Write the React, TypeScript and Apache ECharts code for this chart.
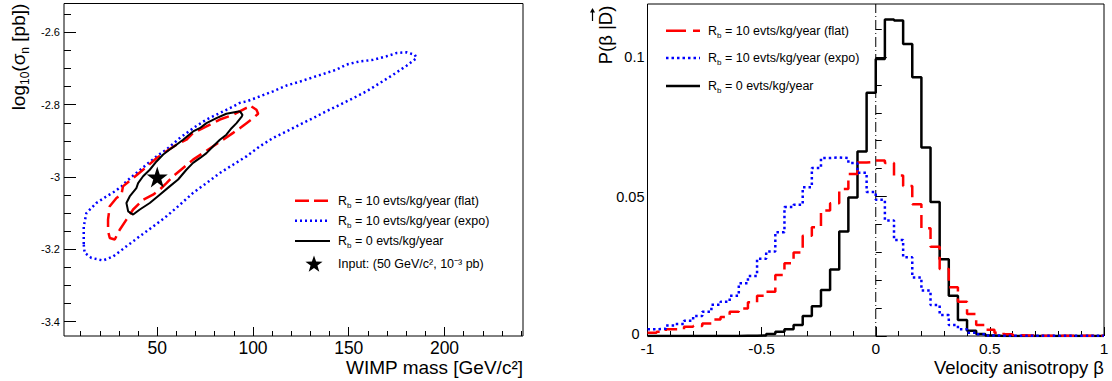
import React, { useEffect, useRef } from "react";
import * as echarts from "echarts";

// ---------- Left panel: credible contours (WIMP mass vs log10 sigma) ----------
const massRange = [1.3, 241];
const logSigmaRange = [-3.44, -2.52];
const massMajorTicks = [50, 100, 150, 200];
const massMinorTicks = [10, 20, 30, 40, 60, 70, 80, 90, 110, 120, 130, 140, 160, 170, 180, 190, 210, 220, 230, 240];
const sigmaMajorTicks = [-3.4, -3.2, -3.0, -2.8, -2.6];
const sigmaMinorTicks = [-3.35, -3.3, -3.25, -3.15, -3.1, -3.05, -2.95, -2.9, -2.85, -2.75, -2.7, -2.65, -2.55];

const contourExpo: [number, number][] = [
  [11.6, -3.187], [12.1, -3.21], [15.6, -3.224], [21.7, -3.231], [26.9, -3.22], [33.9, -3.192],
  [40.9, -3.164], [47.8, -3.137], [54.8, -3.109], [61.8, -3.077], [68.7, -3.044], [75.7, -3.017],
  [82.7, -2.989], [89.6, -2.966], [96.6, -2.943], [103.6, -2.915], [110.5, -2.892], [117.5, -2.874],
  [124.5, -2.855], [131.4, -2.837], [138.4, -2.818], [145.4, -2.8], [152.3, -2.782], [159.3, -2.763],
  [166.3, -2.74], [173.2, -2.717], [180.2, -2.692], [185.4, -2.671], [184.5, -2.662], [180.2, -2.655],
  [175.0, -2.657], [169.7, -2.666], [162.8, -2.676], [155.8, -2.68], [148.8, -2.689], [143.6, -2.703],
  [138.4, -2.712], [131.4, -2.724], [124.5, -2.736], [117.5, -2.747], [110.5, -2.763], [103.6, -2.777],
  [96.6, -2.791], [93.1, -2.795], [89.6, -2.805], [82.7, -2.823], [75.7, -2.841], [68.7, -2.865],
  [61.8, -2.892], [54.8, -2.924], [49.6, -2.943], [44.3, -2.966], [39.1, -2.989], [33.9, -3.012],
  [31.3, -3.026], [27.8, -3.04], [23.4, -3.054], [18.2, -3.072], [13.0, -3.1], [11.6, -3.137], [11.6, -3.187],
];
const contourFlat: [number, number][] = [
  [99.2, -2.805], [101.8, -2.814], [102.7, -2.825], [100.1, -2.837], [96.6, -2.851], [93.1, -2.865],
  [89.6, -2.878], [84.4, -2.897], [79.2, -2.915], [73.9, -2.934], [68.7, -2.952], [63.5, -2.975],
  [58.3, -2.998], [54.8, -3.017], [51.3, -3.035], [47.8, -3.049], [42.6, -3.063], [37.4, -3.09],
  [33.9, -3.118], [30.4, -3.146], [27.8, -3.173], [25.2, -3.169], [24.3, -3.15], [24.3, -3.118],
  [25.2, -3.081], [28.7, -3.058], [31.3, -3.049], [32.1, -3.026], [37.4, -3.003], [42.6, -2.98],
  [49.6, -2.948], [54.8, -2.929], [60.0, -2.911], [65.2, -2.897], [68.7, -2.878], [75.7, -2.86],
  [82.7, -2.841], [89.6, -2.828], [96.6, -2.809], [99.2, -2.805],
];
const contourNoBg: [number, number][] = [
  [93.1, -2.818], [94.5, -2.828], [94.0, -2.834], [91.4, -2.851], [88.8, -2.865], [86.1, -2.883],
  [82.7, -2.897], [79.2, -2.915], [75.7, -2.934], [72.2, -2.948], [68.7, -2.961], [65.2, -2.98],
  [60.9, -3.007], [56.5, -3.026], [51.3, -3.049], [46.1, -3.072], [40.9, -3.09], [37.4, -3.104],
  [34.8, -3.095], [33.9, -3.072], [35.6, -3.054], [39.1, -3.031], [40.0, -3.017], [42.6, -2.998],
  [46.1, -2.98], [49.6, -2.957], [53.1, -2.938], [56.5, -2.924], [60.0, -2.911], [63.5, -2.897],
  [68.7, -2.874], [72.2, -2.865], [75.7, -2.851], [80.9, -2.837], [86.1, -2.825], [93.1, -2.818],
];
const inputPoint: [number, number] = [50, -3.0];

// ---------- Right panel: posterior of velocity anisotropy beta ----------
const betaRange = [-1, 1];
const probRange = [0, 0.119];
const betaBinStart = -1;
const betaBinWidth = 0.04;
const betaMajorTicks = [-1, -0.5, 0, 0.5, 1];
const betaMinorTicks = [-0.9, -0.8, -0.7, -0.6, -0.4, -0.3, -0.2, -0.1, 0.1, 0.2, 0.3, 0.4, 0.6, 0.7, 0.8, 0.9];
const probMajorTicks = [0, 0.05, 0.1];
const probMinorTicks = [0.01, 0.02, 0.03, 0.04, 0.06, 0.07, 0.08, 0.09, 0.11];

const histFlat = [
  0.0012, 0.0015, 0.0024, 0.0024, 0.0033, 0.0036, 0.0045, 0.0059, 0.0068, 0.0087,
  0.0099, 0.0121, 0.0144, 0.0159, 0.0219, 0.0261, 0.0299, 0.0359, 0.039, 0.045,
  0.0476, 0.0527, 0.0581, 0.0622, 0.0624, 0.0629, 0.062, 0.0575, 0.0538, 0.0472,
  0.0386, 0.032, 0.024, 0.0175, 0.0123, 0.0079, 0.0039, 0.0022, 0.0012, 0.0006,
  0.0003, 0.0002, 0.0001, 0.0001, 0.0001, 0.0001, 0.0001, 0.0001, 0.0001, 0.0001,
];
const histExpo = [
  0.0024, 0.0026, 0.0038, 0.0043, 0.0055, 0.0072, 0.0087, 0.0112, 0.0123, 0.0144,
  0.0189, 0.0215, 0.0277, 0.0303, 0.0372, 0.0462, 0.047, 0.0533, 0.0602, 0.0638,
  0.064, 0.0638, 0.062, 0.0585, 0.0516, 0.0488, 0.0414, 0.0344, 0.0282, 0.021,
  0.0163, 0.0111, 0.0075, 0.0039, 0.0024, 0.0012, 0.0006, 0.0002, 0.0001, 0.0001,
  0.0001, 0.0001, 0.0001, 0.0001, 0.0001, 0.0001, 0.0001, 0.0001, 0.0001, 0.0001,
];
const histNoBg = [
  0, 0, 0, 0, 0, 0, 0, 0, 0, 0,
  0.0001, 0.0001, 0.0002, 0.0007, 0.0015, 0.0024, 0.0039, 0.0072, 0.0107, 0.0165,
  0.0238, 0.0375, 0.0496, 0.0661, 0.0872, 0.0993, 0.1134, 0.1131, 0.1047, 0.0927,
  0.0676, 0.048, 0.0275, 0.0144, 0.0057, 0.0019, 0.0007, 0.0002, 0, 0,
  0, 0, 0, 0, 0, 0, 0, 0, 0, 0,
];

const legendLabels = [
  "R{s|b}{m| = 10 evts/kg/year (flat)}",
  "R{s|b}{m| = 10 evts/kg/year (expo)}",
  "R{s|b}{m| = 0 evts/kg/year}",
  "Input: (50 GeV/c², 10⁻³ pb)",
];

const FONT = "'Liberation Sans', Arial, Helvetica, sans-serif";
const RED = "#ff0000";
const BLUE = "#0000ff";
const BLACK = "#000000";
const STAR = "path://M50,0 L61.2,34.5 L97.6,34.5 L68.2,55.9 L79.4,90.5 L50,69.1 L20.6,90.5 L31.8,55.9 L2.4,34.5 L38.8,34.5 Z";

function stepData(hist: number[]): [number, number][] {
  const pts: [number, number][] = hist.map((v, i) => [betaBinStart + i * betaBinWidth, v]);
  pts.push([betaBinStart + hist.length * betaBinWidth, hist[hist.length - 1]]);
  return pts;
}

function valueAxis(gridIndex: number, range: number[], ticks: number[], len: number, labels: boolean, fontSize: number, margin: number, position: string, extraLabel?: any) {
  return {
    type: "value",
    gridIndex,
    position,
    min: range[0],
    max: range[1],
    axisLine: { show: false },
    splitLine: { show: false },
    axisTick: { show: true, inside: true, length: len, customValues: ticks, lineStyle: { color: BLACK, width: 1 } },
    axisLabel: labels
      ? { show: true, customValues: ticks, fontSize, color: BLACK, fontFamily: FONT, margin, ...(extraLabel || {}) }
      : { show: false },
  };
}

const richBase = (size: number) => ({
  m: { fontSize: size, fontFamily: FONT, color: BLACK, lineHeight: size + 5 },
  s: { fontSize: Math.round(size * 0.65), fontFamily: FONT, color: BLACK, verticalAlign: "bottom", lineHeight: Math.round(size * 0.65) },
});

function legendText(x: number, y: number, label: string) {
  return {
    type: "text",
    x,
    y,
    style: {
      text: label,
      fontSize: 12.5,
      fontFamily: FONT,
      fill: BLACK,
      verticalAlign: "middle",
      align: "left",
      rich: richBase(12.5),
    },
  };
}

function legendLine(x1: number, x2: number, y: number, color: string, dash: number[] | null, width: number) {
  return {
    type: "line",
    shape: { x1, y1: y, x2, y2: y },
    style: { stroke: color, lineWidth: width, lineDash: dash || undefined },
  };
}

function starPoints(cx: number, cy: number, r: number): number[][] {
  const pts: number[][] = [];
  for (let i = 0; i < 10; i++) {
    const rad = i % 2 === 0 ? r : r * 0.4;
    const a = -Math.PI / 2 + (i * Math.PI) / 5;
    pts.push([cx + rad * Math.cos(a), cy + rad * Math.sin(a)]);
  }
  return pts;
}

export default function App() {
  const ref = useRef<HTMLDivElement>(null);
  useEffect(() => {
    if (!ref.current) return;
    const chart = echarts.init(ref.current, undefined, { renderer: "svg" });
    const probLabel = {
      lineHeight: 12,
      formatter: (v: number) => (v === 0 ? "{z|0}" : String(v)),
      rich: { z: { fontSize: 14.5, fontFamily: FONT, color: BLACK, padding: [0, 5, 4, 0], lineHeight: 12 } },
    };
    const option: any = {
      animation: false,
      backgroundColor: "#ffffff",
      grid: [
        { left: 64, top: 3.5, width: 459, height: 332.5, show: true, borderColor: BLACK, borderWidth: 1, backgroundColor: "transparent" },
        { left: 647.5, top: 4, width: 456.5, height: 332, show: true, borderColor: BLACK, borderWidth: 1, backgroundColor: "transparent" },
      ],
      xAxis: [
        valueAxis(0, massRange, massMajorTicks, 9, true, 17.5, 3, "bottom"),
        valueAxis(0, massRange, massMinorTicks, 5, false, 0, 0, "bottom"),
        valueAxis(1, betaRange, betaMajorTicks, 9, true, 15.5, 6, "bottom", { lineHeight: 12 }),
        valueAxis(1, betaRange, betaMinorTicks, 5, false, 0, 0, "bottom"),
      ],
      yAxis: [
        valueAxis(0, logSigmaRange, sigmaMajorTicks, 12, true, 11, 4, "left"),
        valueAxis(0, logSigmaRange, sigmaMinorTicks, 7, false, 0, 0, "left"),
        valueAxis(1, probRange, probMajorTicks, 11, true, 14.5, 3, "left", probLabel),
        valueAxis(1, probRange, probMinorTicks, 6, false, 0, 0, "left"),
      ],
      series: [
        {
          type: "line", xAxisIndex: 0, yAxisIndex: 0, data: contourExpo, symbol: "none",
          lineStyle: { color: BLUE, width: 2.5, type: [2, 3] }, z: 3,
        },
        {
          type: "line", xAxisIndex: 0, yAxisIndex: 0, data: contourFlat, symbol: "none",
          lineStyle: { color: RED, width: 2.5, type: [14, 6] }, z: 4,
        },
        {
          type: "line", xAxisIndex: 0, yAxisIndex: 0, data: contourNoBg, symbol: "none",
          lineStyle: { color: BLACK, width: 2 }, z: 5,
        },
        {
          type: "scatter", xAxisIndex: 0, yAxisIndex: 0, data: [inputPoint], symbol: STAR, symbolSize: 21,
          itemStyle: { color: BLACK, opacity: 1 }, z: 6,
        },
        {
          type: "line", xAxisIndex: 2, yAxisIndex: 2, data: [[0, probRange[0]], [0, probRange[1]]], symbol: "none",
          lineStyle: { color: BLACK, width: 1, type: [10, 3, 1, 3] }, z: 2,
        },
        {
          type: "line", xAxisIndex: 2, yAxisIndex: 2, data: stepData(histNoBg), step: "end", symbol: "none",
          lineStyle: { color: BLACK, width: 2.5 }, z: 3,
        },
        {
          type: "line", xAxisIndex: 2, yAxisIndex: 2, data: stepData(histFlat), step: "end", symbol: "none",
          lineStyle: { color: RED, width: 2.5, type: [13, 7] }, z: 4,
        },
        {
          type: "line", xAxisIndex: 2, yAxisIndex: 2, data: stepData(histExpo), step: "end", symbol: "none",
          lineStyle: { color: BLUE, width: 2.5, type: [2.5, 3] }, z: 5,
        },
      ],
      graphic: [
        // Left panel axis titles
        {
          type: "text", x: 18.5, y: 57, rotation: Math.PI / 2,
          style: {
            text: "{m|log}{s|10}{m|(σ}{s|n}{m| [pb])}", align: "center", verticalAlign: "middle",
            rich: richBase(19),
          },
        },
        {
          type: "text", x: 523, y: 367,
          style: { text: "WIMP mass [GeV/c²]", fontSize: 19, fontFamily: FONT, fill: BLACK, align: "right", verticalAlign: "middle" },
        },
        // Right panel axis titles
        {
          type: "text", x: 605, y: 35, rotation: Math.PI / 2,
          style: { text: "P(β |D)", fontSize: 18.5, fontFamily: FONT, fill: BLACK, align: "center", verticalAlign: "middle" },
        },
        { type: "line", shape: { x1: 592.5, y1: 21, x2: 592.5, y2: 11 }, style: { stroke: BLACK, lineWidth: 1.2 } },
        { type: "polygon", shape: { points: [[590, 12.5], [595, 12.5], [592.5, 8]] }, style: { fill: BLACK } },
        {
          type: "text", x: 1104, y: 367,
          style: { text: "Velocity anisotropy β", fontSize: 18.5, fontFamily: FONT, fill: BLACK, align: "right", verticalAlign: "middle" },
        },
        // Left legend
        legendLine(295, 330, 200.7, RED, [14, 5], 2.5),
        legendText(338, 200.7, legendLabels[0]),
        legendLine(295, 330, 220.7, BLUE, [2, 3], 2.5),
        legendText(338, 220.7, legendLabels[1]),
        legendLine(295, 330, 241, BLACK, null, 2),
        legendText(338, 241, legendLabels[2]),
        { type: "polygon", shape: { points: starPoints(314, 264.5, 9) }, style: { fill: BLACK } },
        legendText(338, 264, legendLabels[3]),
        // Right legend
        legendLine(666, 700, 30.7, RED, [20, 7], 2.5),
        legendText(708, 30.7, legendLabels[0]),
        legendLine(666, 700, 58, BLUE, [2.5, 3], 2.5),
        legendText(708, 58, legendLabels[1]),
        legendLine(666, 700, 86, BLACK, null, 2.5),
        legendText(708, 86, legendLabels[2]),
      ],
    };
    chart.setOption(option);
    return () => chart.dispose();
  }, []);
  return (
    <div
      ref={ref}
      style={{ position: "absolute", left: 0, top: 0, width: 1112, height: 381 }}
    />
  );
}
